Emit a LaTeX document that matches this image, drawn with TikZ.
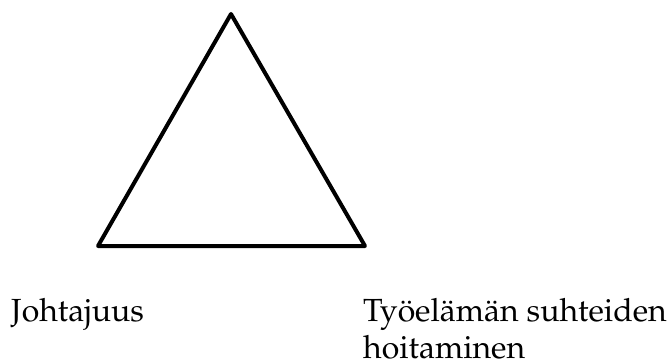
\documentclass[tikz,border=0pt]{standalone}
\usepackage[T1]{fontenc}
\usepackage{mathpazo}
\begin{document}
\begin{tikzpicture}[x=1pt,y=-1pt,
  tri/.style={line width=4pt,line join=round,line cap=round},
  lbl/.style={anchor=base west,inner sep=0pt,font=\fontsize{32}{38}\selectfont,align=left}]
\useasboundingbox (0,0) rectangle (671,363);
\coordinate (top) at (231,14);
\coordinate (bl) at (98,246);
\coordinate (br) at (365,246);
\draw[tri] (top) -- (bl) -- (br) -- cycle;
\node[lbl] (l1) at (11,321) {Johtajuus};
\node[lbl] (l2) at (363,321) {Ty\"oel\"am\"an suhteiden};
\node[lbl] (l3) at (363,358) {hoitaminen};
\end{tikzpicture}
\end{document}
